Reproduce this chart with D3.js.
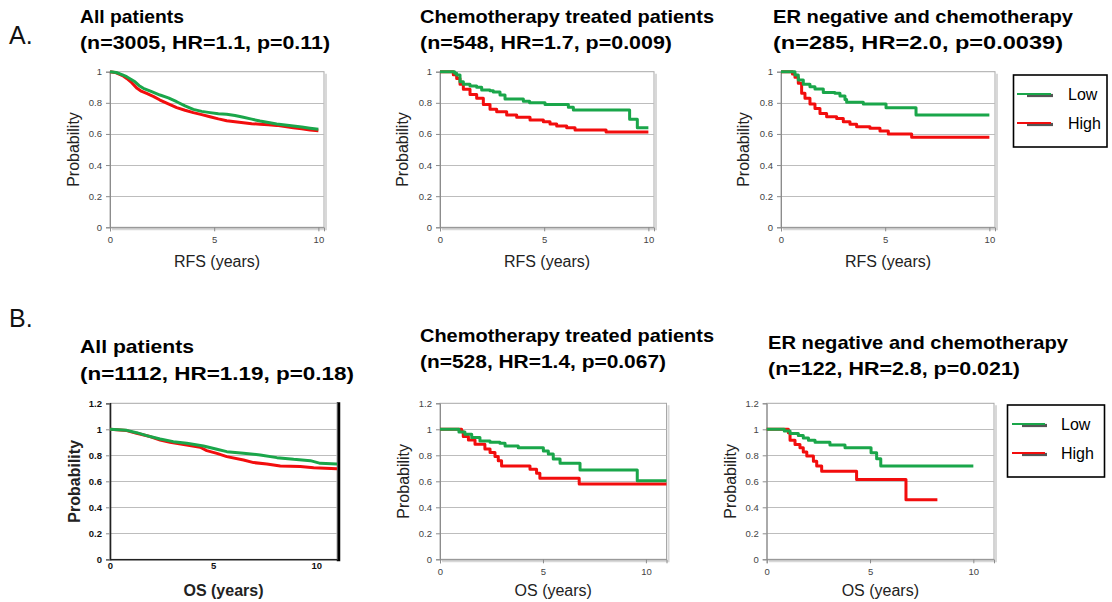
<!DOCTYPE html>
<html>
<head>
<meta charset="utf-8">
<script src="https://cdn.jsdelivr.net/npm/d3@7"></script>
<style>
  html, body { margin: 0; padding: 0; background: #fff; }
  svg { display: block; font-family: "Liberation Sans", Arial, sans-serif; }
</style>
</head>
<body>
<svg id="chart" width="1112" height="602"></svg>
<script>
// ---- Kaplan–Meier estimates: [time in years, survival probability] ----
// A. Relapse-free survival
const rfsAllLow = [[0,1],[0.3,0.995],[0.6,0.98],[0.8,0.968],[1.0,0.952],[1.2,0.935],[1.4,0.91],[1.6,0.893],[2.0,0.872],[2.4,0.85],[2.8,0.832],[3.2,0.807],[3.6,0.78],[4.0,0.758],[4.4,0.745],[4.8,0.737],[5.2,0.73],[5.6,0.726],[6.0,0.718],[6.4,0.707],[6.8,0.695],[7.2,0.683],[7.6,0.673],[8.0,0.664],[8.4,0.657],[8.8,0.651],[9.2,0.645],[9.6,0.637],[10.0,0.63]];
const rfsAllHigh = [[0,1],[0.3,0.993],[0.6,0.975],[0.8,0.957],[1.0,0.935],[1.3,0.893],[1.5,0.875],[1.76,0.86],[2.1,0.84],[2.4,0.818],[2.8,0.793],[3.2,0.769],[3.6,0.752],[4.0,0.737],[4.4,0.724],[4.8,0.711],[5.2,0.697],[5.6,0.685],[6.0,0.678],[6.4,0.672],[6.8,0.666],[7.2,0.662],[7.6,0.659],[8.0,0.655],[8.4,0.648],[8.8,0.64],[9.2,0.633],[9.6,0.626],[10.0,0.621]];
const rfsChemoLow = [[0,1],[0.5,1],[0.7,0.99],[0.8,0.979],[0.96,0.936],[1.12,0.92],[1.44,0.908],[1.76,0.9],[2.0,0.882],[2.4,0.878],[2.56,0.87],[2.88,0.85],[3.12,0.824],[4.0,0.81],[4.3,0.8],[5.04,0.79],[6.16,0.771],[6.4,0.754],[9.1,0.694],[9.47,0.64],[10,0.64]];
const rfsChemoHigh = [[0,1],[0.48,1],[0.64,0.98],[0.8,0.957],[0.96,0.92],[1.12,0.887],[1.44,0.854],[1.76,0.829],[2.08,0.79],[2.4,0.758],[2.72,0.743],[3.2,0.722],[3.68,0.707],[4.32,0.69],[4.96,0.679],[5.28,0.664],[5.6,0.651],[6.08,0.64],[6.48,0.625],[7.97,0.612],[10,0.612]];
const rfsErNegLow = [[0,1],[0.51,1],[0.67,0.979],[0.83,0.946],[1.07,0.92],[1.39,0.904],[1.63,0.889],[2.03,0.867],[2.59,0.861],[2.83,0.844],[3.07,0.822],[3.15,0.803],[3.95,0.792],[5.04,0.769],[6.48,0.722],[10,0.722]];
const rfsErNegHigh = [[0,1],[0.43,1],[0.55,0.985],[0.67,0.964],[0.83,0.925],[0.99,0.861],[1.15,0.829],[1.39,0.792],[1.63,0.764],[1.87,0.732],[2.19,0.711],[2.67,0.7],[2.99,0.679],[3.31,0.662],[3.63,0.647],[4.27,0.636],[4.75,0.619],[5.15,0.6],[6.27,0.578],[10,0.578]];
// B. Overall survival
const osAllLow = [[0,1],[0.81,0.992],[1.29,0.974],[1.94,0.944],[2.43,0.926],[3.07,0.905],[3.72,0.892],[4.53,0.872],[5.18,0.846],[5.66,0.828],[6.47,0.815],[7.28,0.803],[8.09,0.782],[8.9,0.769],[9.71,0.759],[10.19,0.738],[11,0.733]];
const osAllHigh = [[0,1],[0.81,0.99],[1.29,0.969],[1.94,0.944],[2.43,0.918],[2.91,0.9],[3.72,0.879],[4.37,0.862],[4.69,0.836],[5.18,0.815],[5.66,0.79],[6.47,0.764],[6.96,0.744],[7.6,0.733],[8.25,0.718],[9.22,0.713],[9.87,0.705],[11,0.697]];
const osChemoLow = [[0,1],[0.89,1],[0.92,0.979],[1.21,0.962],[1.54,0.936],[1.94,0.91],[2.43,0.9],[2.91,0.892],[3.16,0.872],[3.8,0.859],[5.02,0.833],[5.26,0.81],[5.5,0.772],[5.83,0.738],[6.8,0.687],[9.58,0.605],[11,0.605]];
const osChemoHigh = [[0,1],[0.97,1],[1.05,0.982],[1.13,0.944],[1.38,0.918],[1.7,0.885],[2.18,0.849],[2.43,0.821],[2.67,0.79],[2.83,0.759],[2.99,0.718],[4.37,0.692],[4.69,0.662],[4.85,0.623],[6.76,0.579],[11,0.579]];
const osErNegLow = [[0,1],[0.81,1],[0.85,0.986],[1.13,0.968],[1.53,0.952],[1.77,0.934],[2.02,0.916],[2.34,0.901],[3.06,0.88],[3.79,0.858],[5.05,0.82],[5.32,0.773],[5.52,0.717],[10,0.717]];
const osErNegHigh = [[0,1],[0.97,1],[1.05,0.973],[1.13,0.916],[1.37,0.884],[1.61,0.858],[1.77,0.825],[1.94,0.794],[2.26,0.755],[2.42,0.717],[2.66,0.678],[4.35,0.613],[6.74,0.458],[8.26,0.458]];

// Panel headings
const titleLines = [
  ["All patients", "(n=3005, HR=1.1, p=0.11)"],
  ["Chemotherapy treated patients", "(n=548, HR=1.7, p=0.009)"],
  ["ER negative and chemotherapy", "(n=285, HR=2.0, p=0.0039)"],
  ["All patients", "(n=1112, HR=1.19, p=0.18)"],
  ["Chemotherapy treated patients", "(n=528, HR=1.4, p=0.067)"],
  ["ER negative and chemotherapy", "(n=122, HR=2.8, p=0.021)"]
];
const xAxisTitles = ["RFS (years)", "RFS (years)", "RFS (years)", "OS (years)", "OS (years)", "OS (years)"];
const yAxisTitle = "Probability";
const xTicks = [0, 5, 10];
const yTicksA = [0, 0.2, 0.4, 0.6, 0.8, 1];
const yTicksB = [0, 0.2, 0.4, 0.6, 0.8, 1, 1.2];
const groupNames = ["Low", "High"];
const rowLabels = ["A.", "B."];

const seriesByPanel = [
  [rfsAllLow, rfsAllHigh], [rfsChemoLow, rfsChemoHigh], [rfsErNegLow, rfsErNegHigh],
  [osAllLow, osAllHigh], [osChemoLow, osChemoHigh], [osErNegLow, osErNegHigh]
];

const COLORS = ["#1aa64a", "#f20d0d"];

// Layout of each panel (pixel frame, domains, heading placement)
const panels = [
  {l:110, r:324, t:71.7, b:227.3, xMax:10.27, yMax:1, yTicks:yTicksA, smooth:true,
   tx:80, ty:[23,49], tw:[104,250], yl:73, xlY:261, bold:false},
  {l:440, r:654, t:71.7, b:227.3, xMax:10.27, yMax:1, yTicks:yTicksA, smooth:false,
   tx:420, ty:[23,49], tw:[294,252], yl:402, xlY:261, bold:false},
  {l:781, r:995, t:71.7, b:227.3, xMax:10.27, yMax:1, yTicks:yTicksA, smooth:false,
   tx:773, ty:[23,49], tw:[300,290], yl:743, xlY:261, bold:false},
  {l:110, r:337, t:403.3, b:559.3, xMax:11, yMax:1.2, yTicks:yTicksB, smooth:true,
   tx:80, ty:[353,380], tw:[114,274], yl:74, xlY:590, bold:true},
  {l:440, r:666.5, t:403.3, b:559.3, xMax:11, yMax:1.2, yTicks:yTicksB, smooth:false,
   tx:420, ty:[342,368], tw:[294,246], yl:403, xlY:590, bold:false},
  {l:766.7, r:994, t:403.3, b:559.3, xMax:11, yMax:1.2, yTicks:yTicksB, smooth:false,
   tx:768, ty:[349,375], tw:[300,252], yl:730, xlY:590, bold:false}
];

const svg = d3.select("#chart");

// Row letters
svg.append("text").attr("x", 9).attr("y", 44).attr("font-size", 25).attr("fill", "#111").text(rowLabels[0]);
svg.append("text").attr("x", 9).attr("y", 327).attr("font-size", 25).attr("fill", "#111").text(rowLabels[1]);

panels.forEach((p, i) => {
  const g = svg.append("g");
  const x = d3.scaleLinear().domain([0, p.xMax]).range([p.l, p.r]);
  const y = d3.scaleLinear().domain([0, p.yMax]).range([p.b, p.t]);

  // Heading
  titleLines[i].forEach((line, k) => {
    g.append("text")
      .attr("x", p.tx).attr("y", p.ty[k])
      .attr("font-size", 19).attr("font-weight", "bold").attr("fill", "#000")
      .attr("textLength", p.tw[k]).attr("lengthAdjust", "spacingAndGlyphs")
      .text(line);
  });

  // Frame shadow
  if (p.bold) {
    g.append("line").attr("x1", p.r + 1.5).attr("x2", p.r + 1.5).attr("y1", p.t - 1).attr("y2", p.b + 2)
      .attr("stroke", "#000").attr("stroke-width", 3.5);
  } else {
    g.append("path")
      .attr("d", `M${p.r + 2},${p.t + 2}V${p.b + 2}H${p.l + 2}`)
      .attr("fill", "none").attr("stroke", "#d8d8d8").attr("stroke-width", 2);
  }
  // Plot area frame
  g.append("rect").attr("x", p.l).attr("y", p.t).attr("width", p.r - p.l).attr("height", p.b - p.t)
    .attr("fill", "#fff").attr("stroke", "#a8a8a8").attr("stroke-width", 1);

  // Horizontal grid lines
  g.selectAll(".grid").data(p.yTicks.filter(v => v > 0 && v < p.yMax)).enter().append("line")
    .attr("x1", p.l).attr("x2", p.r)
    .attr("y1", d => Math.round(y(d)) + 0.5).attr("y2", d => Math.round(y(d)) + 0.5)
    .attr("stroke", "#bdbdbd").attr("stroke-width", 1);

  // Axes
  const fw = p.bold ? "bold" : "normal";
  const yAxis = d3.axisLeft(y).tickValues(p.yTicks).tickSize(4).tickPadding(4).tickFormat(d3.format("~g"));
  const ya = g.append("g").attr("transform", `translate(${p.l},0)`).call(yAxis);
  const xAxis = d3.axisBottom(x).tickValues(xTicks).tickSize(p.bold ? 0 : 4).tickPadding(p.bold ? 3 : 5);
  const xa = g.append("g").attr("transform", `translate(0,${p.b})`).call(xAxis);
  [ya, xa].forEach(a => {
    a.select(".domain").attr("stroke", p.bold ? "#222" : "#8c8c8c").attr("stroke-width", p.bold ? 1.6 : 1);
    a.selectAll(".tick line").attr("stroke", "#8c8c8c");
    a.selectAll(".tick text").attr("font-size", 9.5).attr("fill", p.bold ? "#111" : "#444")
      .attr("font-weight", fw).attr("font-family", "Liberation Sans, Arial, sans-serif");
  });

  // Axis titles
  g.append("text")
    .attr("transform", `translate(${p.yl},${(p.t + p.b) / 2}) rotate(-90)`)
    .attr("text-anchor", "middle").attr("dominant-baseline", "central")
    .attr("font-size", 16).attr("font-weight", fw).attr("fill", "#222")
    .text(yAxisTitle);
  g.append("text")
    .attr("x", (p.l + p.r) / 2).attr("y", p.xlY)
    .attr("text-anchor", "middle").attr("dominant-baseline", "central")
    .attr("font-size", 16).attr("font-weight", fw).attr("fill", "#222")
    .text(xAxisTitles[i]);

  // Survival curves: High drawn first, Low on top
  const line = d3.line()
    .x(d => x(d[0])).y(d => y(d[1]))
    .curve(p.smooth ? d3.curveLinear : d3.curveStepAfter);
  [1, 0].forEach(s => {
    g.append("path").datum(seriesByPanel[i][s])
      .attr("d", line)
      .attr("fill", "none").attr("stroke", COLORS[s])
      .attr("stroke-width", 3).attr("stroke-linejoin", "round");
  });
});

// Legends
function legend(bx, by, bw, bh, lx0, lx1, tx, rows) {
  const g = svg.append("g");
  g.append("rect").attr("x", bx).attr("y", by).attr("width", bw).attr("height", bh)
    .attr("fill", "#fff").attr("stroke", "#000").attr("stroke-width", 1.6);
  groupNames.forEach((name, k) => {
    const yy = rows[k];
    g.append("line").attr("x1", lx0 + 10).attr("x2", lx1).attr("y1", yy + 1.5).attr("y2", yy + 1.5)
      .attr("stroke", "#555").attr("stroke-width", 3.2);
    g.append("line").attr("x1", lx0).attr("x2", lx1 - 2).attr("y1", yy).attr("y2", yy)
      .attr("stroke", COLORS[k]).attr("stroke-width", 2);
    g.append("text").attr("x", tx).attr("y", yy).attr("dominant-baseline", "central")
      .attr("font-size", 16).attr("fill", "#000").text(name);
  });
}
legend(1013.5, 75, 93.5, 72, 1017, 1053, 1068, [94, 123]);
legend(1007.5, 405, 97, 72, 1012, 1047, 1061, [424, 453]);
</script>
</body>
</html>
